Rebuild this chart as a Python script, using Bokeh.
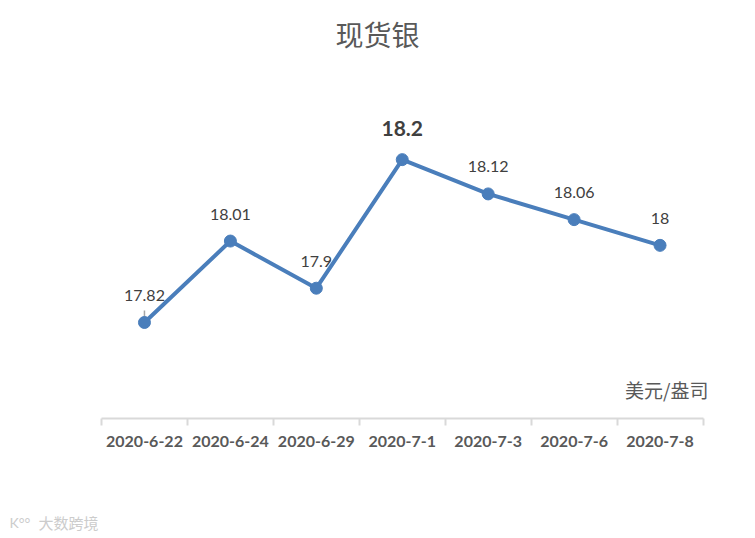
from bokeh.plotting import figure
from bokeh.models import Range1d, FixedTicker, ColumnDataSource, LabelSet, Label
from bokeh.core.properties import value
from bokeh.layouts import column
from bokeh.embed import file_html
from bokeh.resources import INLINE

# ---- data ----
dates = ["2020-6-22", "2020-6-24", "2020-6-29", "2020-7-1", "2020-7-3", "2020-7-6", "2020-7-8"]
prices = [17.82, 18.01, 17.9, 18.2, 18.12, 18.06, 18.0]
price_labels = ["17.82", "18.01", "17.9", "18.2", "18.12", "18.06", "18"]
title_text = "现货银"
unit_text = "美元/盎司"
watermark_text = "大数跨境"

W = 755
H1, H2 = 490, 48
axis_left, axis_right = 101, 702.5   # page x extent of the category axis
frame_bottom = 418                    # page y of x axis line
bottom = H1 - frame_bottom
n = len(dates)
ppu = 428.6                           # pixels per unit on y
y0 = 17.596
y1 = y0 + frame_bottom / ppu
ppx = (axis_right - axis_left) / n    # pixels per category
x_start = -axis_left / ppx
x_end = (W - axis_left) / ppx

p = figure(width=W, height=H1, output_backend="svg", toolbar_location=None,
           x_range=Range1d(x_start, x_end), y_range=Range1d(y0, y1),
           min_border_left=0, min_border_right=0,
           min_border_top=0, min_border_bottom=bottom)
p.outline_line_color = None
p.xgrid.visible = False
p.ygrid.visible = False
p.yaxis.visible = False
p.background_fill_color = "white"
p.border_fill_color = "white"

xs = [i + 0.5 for i in range(n)]

ax = p.xaxis[0]
ax.bounds = (0, n)
ax.ticker = FixedTicker(ticks=xs, minor_ticks=list(range(n + 1)))
ax.major_label_overrides = {x: d for x, d in zip(xs, dates)}
ax.major_tick_line_color = None
ax.major_tick_out = 0
ax.major_tick_in = 0
ax.minor_tick_out = 7
ax.minor_tick_in = 0
ax.minor_tick_line_color = "#d9d9d9"
ax.minor_tick_line_width = 2
ax.axis_line_color = "#d9d9d9"
ax.axis_line_width = 2
ax.major_label_text_font = "Lato"
ax.major_label_text_font_style = "bold"
ax.major_label_text_font_size = "16px"
ax.major_label_text_color = "#595959"
ax.major_label_standoff = 10

color = "#4a7ebb"

# leader line for first label
p.segment(x0=[xs[0]], x1=[xs[0]], y0=[prices[0] + 4 / ppu], y1=[prices[0] + 12 / ppu],
          line_color="#a6a6a6", line_width=1.5)

p.line(xs, prices, line_color=color, line_width=4)
p.scatter(xs, prices, size=12, fill_color=color, line_color=color)

mx = max(prices)
src = ColumnDataSource(dict(
    x=xs,
    y=[v + (31.5 if v == mx else 27) / ppu for v in prices],
    t=price_labels,
    fs=["21px" if v == mx else "16px" for v in prices],
    st=["bold" if v == mx else "normal" for v in prices],
))
p.add_layout(LabelSet(x="x", y="y", text="t", source=src, text_align="center",
                      text_baseline="middle", text_font=value("Lato"),
                      text_font_size={"field": "fs"}, text_font_style={"field": "st"},
                      text_color="#404040"))

# title
p.add_layout(Label(x=(377 - axis_left) / ppx, y=y1 - 33 / ppu, text=title_text,
                   text_align="center", text_baseline="middle",
                   text_font="Noto Sans CJK SC", text_font_size="28px",
                   text_color="#595959"))
# unit
p.add_layout(Label(x=(708 - axis_left) / ppx, y=y0 + 29 / ppu, text=unit_text,
                   text_align="right", text_baseline="middle",
                   text_font="Noto Sans CJK SC", text_font_size="19px",
                   text_color="#595959"))

# watermark strip
p2 = figure(width=W, height=H2, output_backend="svg", toolbar_location=None,
            x_range=Range1d(0, W), y_range=Range1d(H2, 0),
            min_border=0)
p2.axis.visible = False
p2.grid.visible = False
p2.outline_line_color = None
p2.add_layout(Label(x=38, y=32, text=watermark_text, text_align="left",
                    text_baseline="middle", text_font="Noto Sans CJK SC",
                    text_font_size="15px", text_color="#cccccc"))
p2.add_layout(Label(x=9, y=32, text="K°°", text_align="left",
                    text_baseline="middle", text_font="Lato",
                    text_font_size="14px", text_color="#cccccc"))

layout = column(p, p2, spacing=0)
open("out.html", "w").write(file_html(layout, INLINE))
